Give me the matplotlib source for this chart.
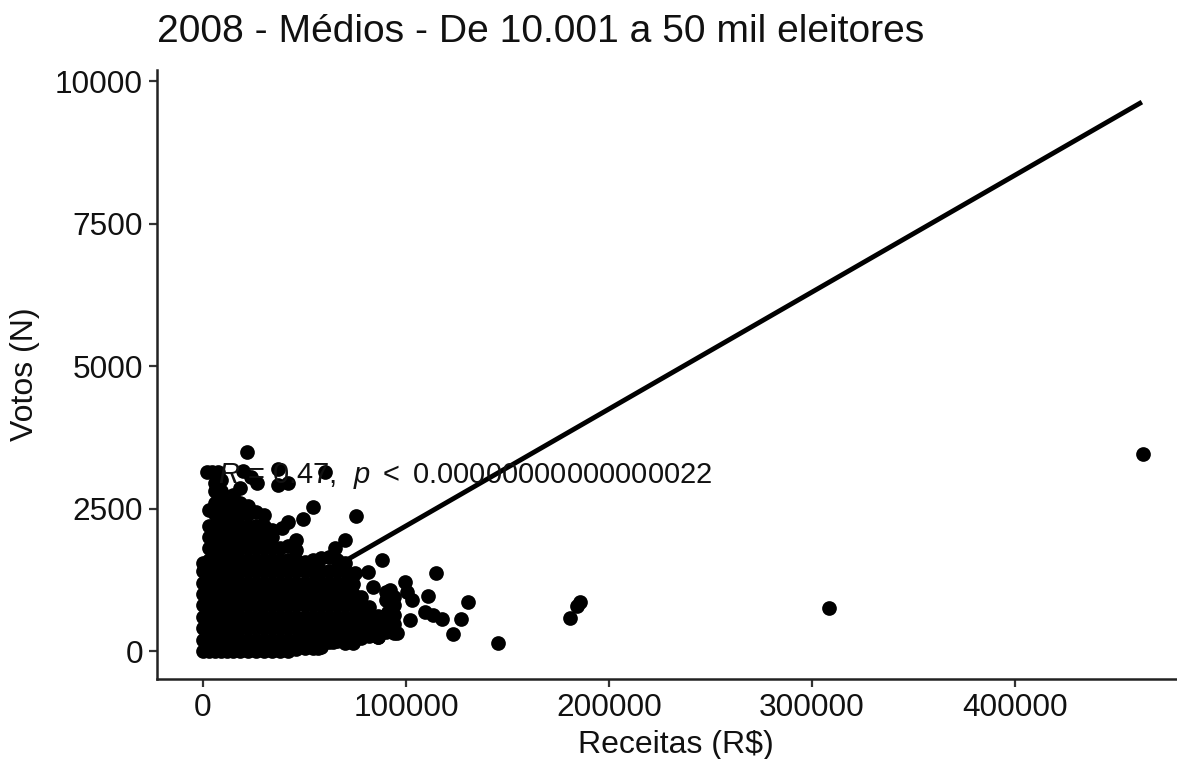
import matplotlib
matplotlib.use('Agg')
import matplotlib.pyplot as plt

plt.rcParams['font.family'] = ['Liberation Sans', 'DejaVu Sans']
plt.rcParams['mathtext.fontset'] = 'custom'
plt.rcParams['mathtext.rm'] = 'Liberation Sans'
plt.rcParams['mathtext.it'] = 'Liberation Sans:italic'

title = '2008 - Médios - De 10.001 a 50 mil eleitores'
x_ticks = [0, 100000, 200000, 300000, 400000]
y_ticks = [0, 2500, 5000, 7500, 10000]

# pontos soltos, lidos um a um
rec_x = [21500, 1800, 4500, 7400, 19700, 23500, 37000, 26400, 37000, 42000, 60000, 54400,
         75400, 49300, 42000, 38700, 70000, 65000, 88000, 114800, 81500, 75000,
         99600, 110800, 130600, 127100, 123300, 145300, 117600, 113500, 109400, 102000,
         102800, 95400, 100300, 92100, 83700, 91100, 86200, 73900, 64000, 56700,
         42000, 181000, 184000, 185500, 308500, 463000]
vot_x = [3491, 3146, 3146, 3146, 3163, 3050, 3190, 2944, 2912, 2944, 3146, 2526,
         2368, 2316, 2263, 2158, 1947, 1807, 1596, 1368, 1386, 1368,
         1211, 965, 860, 561, 298, 140, 561, 632, 684, 544,
         895, 316, 1035, 1070, 1123, 684, 246, 140, 158, 53,
         0, 580, 790, 860, 760, 3450]

# massa densa perto da origem: receita de cada coluna e os votos dela
dense_x = [0, 3000, 6000, 9000, 12000, 15000, 18000, 22000, 26000, 30000,
           34000, 38000, 42000, 46000, 50000, 54000, 58000, 62000, 66000, 70000,
           74000, 78000, 82000, 86000, 90000, 94000]
dense_y = [
    [0, 200, 400, 600, 800, 1000, 1200, 1400, 1550],
    [0, 200, 400, 600, 800, 1000, 1200, 1400, 1600, 1800, 2000, 2200, 2480],
    [0, 200, 400, 600, 800, 1000, 1200, 1400, 1600, 1800, 2000, 2200, 2400, 2600, 2800, 2950],
    [0, 200, 400, 600, 800, 1000, 1200, 1400, 1600, 1800, 2000, 2200, 2400, 2600, 2800, 3000],
    [0, 200, 400, 600, 800, 1000, 1200, 1400, 1600, 1800, 2000, 2200, 2400, 2600, 2700],
    [0, 200, 400, 600, 800, 1000, 1200, 1400, 1600, 1800, 2000, 2200, 2400, 2600, 2740],
    [0, 200, 400, 600, 800, 1000, 1200, 1400, 1600, 1800, 2000, 2200, 2400, 2600, 2860],
    [0, 200, 400, 600, 800, 1000, 1200, 1400, 1600, 1800, 2000, 2200, 2400, 2550],
    [0, 200, 400, 600, 800, 1000, 1200, 1400, 1600, 1800, 2000, 2200, 2430],
    [0, 200, 400, 600, 800, 1000, 1200, 1400, 1600, 1800, 2000, 2200, 2390],
    [0, 200, 400, 600, 800, 1000, 1200, 1400, 1600, 1800, 2000, 2120],
    [0, 200, 400, 600, 800, 1000, 1200, 1400, 1600, 1800],
    [20, 200, 400, 600, 800, 1000, 1200, 1400, 1600, 1850],
    [30, 200, 400, 600, 800, 1000, 1200, 1400, 1600, 1780, 1950],
    [60, 220, 400, 600, 800, 1000, 1200, 1400, 1560],
    [60, 220, 400, 600, 800, 1000, 1200, 1400, 1600],
    [70, 240, 400, 600, 800, 1000, 1200, 1400, 1640],
    [150, 300, 450, 600, 800, 1000, 1200, 1400, 1650],
    [170, 300, 450, 600, 800, 1000, 1200, 1400, 1600],
    [140, 300, 450, 600, 800, 1000, 1200, 1400, 1540],
    [160, 300, 450, 600, 800, 1000, 1180, 1340],
    [230, 380, 520, 660, 800, 950],
    [260, 400, 520, 640, 780],
    [240, 380, 500, 620],
    [330, 480, 900, 1030],
    [320, 480, 640, 800, 950],
]

# reta de regressão: início e fim
fit_x = [0, 462500]
fit_y = [144, 9630]

fig = plt.figure(figsize=(11.77, 7.59), dpi=100)
ax = fig.add_axes([157 / 1177, 1 - 679 / 759, 1 - 157 / 1177, (679 - 70) / 759])

for x, ys in zip(dense_x, dense_y):
    ax.scatter([x] * len(ys), ys, s=112, color='black', linewidths=0, zorder=2)
ax.scatter(rec_x, vot_x, s=112, color='black', linewidths=0, zorder=2)

ax.plot(fit_x, fit_y, color='black', lw=3.5, solid_capstyle='butt', zorder=3)

ax.text(7500, 3070, r'$\mathit{R}$ = 0.47,  $\mathit{p}$ $<$ 0.00000000000000022',
        fontsize=21, va='center', ha='left', color='#111111', zorder=4)

ax.set_xlim(-22660, 479800)
ax.set_ylim(-491, 10193)
ax.set_xticks(x_ticks)
ax.set_yticks(y_ticks)
ax.set_xticklabels([str(v) for v in x_ticks])
ax.set_yticklabels([str(v) for v in y_ticks])
ax.tick_params(axis='both', labelsize=22.8, length=6, width=1.6, color='#333333',
               labelcolor='#111111', pad=4)

ax.spines['top'].set_visible(False)
ax.spines['right'].set_visible(False)
ax.spines['left'].set_linewidth(1.8)
ax.spines['bottom'].set_linewidth(1.8)
ax.spines['left'].set_color('#222222')
ax.spines['bottom'].set_color('#222222')

fig.text(676 / 1177, 1 - 745 / 759, 'Receitas (R$)', fontsize=23, ha='center', va='center', color='#111111')
fig.text(25 / 1177, 1 - 374 / 759, 'Votos (N)', fontsize=23, rotation=90, ha='center', va='center', color='#111111')
fig.text(157 / 1177, 1 - 32 / 759, title, fontsize=28.1, ha='left', va='center', color='#111111')

fig.savefig('out.png', dpi=100)
